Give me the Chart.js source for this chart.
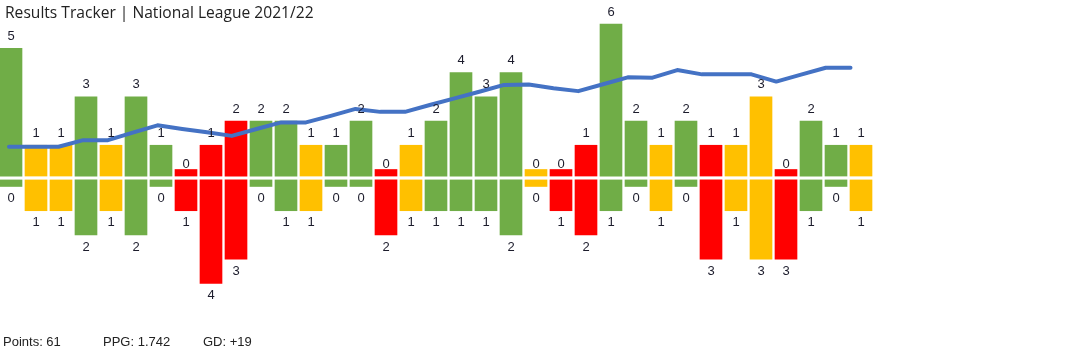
<!DOCTYPE html>
<html>
<head>
<meta charset="utf-8">
<script src="https://cdn.jsdelivr.net/npm/chart.js@4.4.1/dist/chart.umd.min.js"></script>
<style>
  html, body { margin: 0; padding: 0; background: #ffffff; }
  #wrap { position: relative; width: 1072px; height: 355px; overflow: hidden; }
  #title { position: absolute; left: 5px; top: 1px; font-family: "Open Sans", sans-serif; font-size: 15.6px; color: #222; white-space: nowrap; }
  .foot { position: absolute; top: 334px; font-family: "Liberation Sans", Arial, sans-serif; font-size: 13px; color: #222; white-space: nowrap; }
</style>
</head>
<body>
<div id="wrap">
  <canvas id="chart"></canvas>
  <div id="title">Results Tracker | National League 2021/22</div>
  <div class="foot" id="f0" style="left:3px"></div>
  <div class="foot" id="f1" style="left:103px"></div>
  <div class="foot" id="f2" style="left:203px"></div>
</div>
<script>
// ---- data ----
const matchNo = [1,2,3,4,5,6,7,8,9,10,11,12,13,14,15,16,17,18,19,20,21,22,23,24,25,26,27,28,29,30,31,32,33,34,35];
const goalsFor = [5,1,1,3,1,3,1,0,1,2,2,2,1,1,2,0,1,2,4,3,4,0,0,1,6,2,1,2,1,1,3,0,2,1,1];
const goalsAgainst = [0,1,1,2,1,2,0,1,4,3,0,1,1,0,0,2,1,1,1,1,2,0,1,2,1,0,1,0,3,1,3,3,1,0,1];
const results = ['W','D','D','W','D','W','W','L','L','L','W','W','D','W','W','L','D','W','W','W','W','D','L','L','W','W','D','W','L','D','D','L','W','W','D'];
const formLine = [2.0,2.0,2.0,4.0,4.0,6.3,8.5,7.4,6.4,5.3,7.4,9.4,9.4,11.4,13.5,12.6,12.6,14.7,16.7,18.7,20.8,20.9,19.8,18.9,21.0,23.1,23.0,25.3,24.0,24.0,24.0,21.8,23.9,26.0,26.0];
const summaryLabels = ['Points: 61', 'PPG: 1.742', 'GD: +19'];

// ---- styles ----
const resultColour = { W: '#70AD47', D: '#FFC000', L: '#FF0000' };
const colours = results.map(r => resultColour[r]);

document.getElementById('f0').textContent = summaryLabels[0];
document.getElementById('f1').textContent = summaryLabels[1];
document.getElementById('f2').textContent = summaryLabels[2];

// layout constants (goal units on the bar axis)
const UP_BASE = -0.27;      // bottom of goals-for bars
const DOWN_TOP = -0.43;     // top of goals-against bars
const DOWN_STUB = -0.70;    // zero level of goals-against bars

const forData = goalsFor.map((g, i) => ({ x: i, y: [UP_BASE, g] }));
const againstData = goalsAgainst.map((g, i) => ({ x: i, y: [DOWN_TOP, DOWN_STUB - g] }));
const lineData = formLine.map((v, i) => ({ x: i, y: v }));

const labelPlugin = {
  id: 'valueLabels',
  afterDatasetsDraw(chart) {
    const ctx = chart.ctx;
    ctx.save();
    ctx.font = '13px "Liberation Sans", Arial, sans-serif';
    ctx.fillStyle = '#1c1c2c';
    ctx.textAlign = 'center';
    ctx.textBaseline = 'middle';
    chart.getDatasetMeta(1).data.forEach((bar, i) => {
      ctx.fillText(String(goalsFor[i]), bar.x, bar.y - 12);
    });
    chart.getDatasetMeta(2).data.forEach((bar, i) => {
      ctx.fillText(String(goalsAgainst[i]), bar.x, bar.y + 12);
    });
    ctx.restore();
  }
};

new Chart(document.getElementById('chart'), {
  type: 'bar',
  data: {
    labels: matchNo,
    datasets: [
      {
        type: 'line', label: 'Form', data: lineData,
        xAxisID: 'x2', yAxisID: 'y2',
        borderColor: '#4472C4', borderWidth: 4, pointRadius: 0,
        borderCapStyle: 'round', borderJoinStyle: 'round', tension: 0, order: 0
      },
      {
        label: 'Goals for', data: forData, backgroundColor: colours,
        barThickness: 22, grouped: false, xAxisID: 'x', yAxisID: 'y', order: 1, borderWidth: 0
      },
      {
        label: 'Goals against', data: againstData, backgroundColor: colours,
        barThickness: 22, grouped: false, xAxisID: 'x', yAxisID: 'y', order: 1, borderWidth: 0
      }
    ]
  },
  options: {
    responsive: true,
    maintainAspectRatio: false,
    animation: false,
    layout: { padding: 0 },
    plugins: { legend: { display: false }, title: { display: false }, tooltip: { enabled: false } },
    scales: {
      x: { type: 'linear', display: false, offset: false, min: -0.44, max: 42.44, grid: { display: false } },
      y: { type: 'linear', display: false, min: -7.65, max: 6.99, grid: { display: false } },
      x2: { type: 'linear', display: false, offset: false, min: -0.3636, max: 42.949, grid: { display: false } },
      y2: { type: 'linear', display: false, min: -61.3, max: 46.6, grid: { display: false } }
    }
  },
  plugins: [labelPlugin]
});
</script>
</body>
</html>
